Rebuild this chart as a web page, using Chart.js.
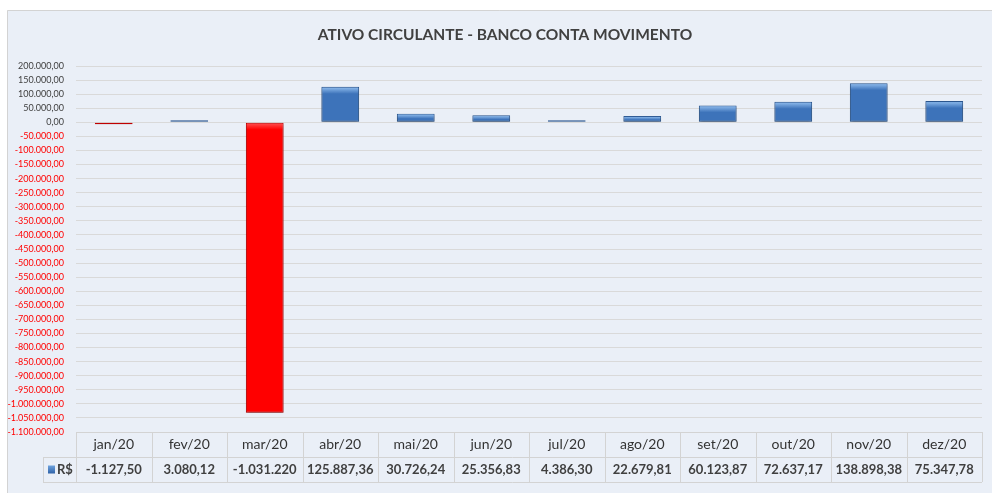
<!DOCTYPE html>
<html>
<head>
<meta charset="utf-8">
<script src="https://cdn.jsdelivr.net/npm/chart.js@4.4.1/dist/chart.umd.min.js"></script>
<style>
html,body{margin:0;padding:0;background:#fff;}
canvas{display:block;}
</style>
</head>
<body>
<canvas id="c" width="992" height="493"></canvas>
<script>
const categories = ['jan/20','fev/20','mar/20','abr/20','mai/20','jun/20','jul/20','ago/20','set/20','out/20','nov/20','dez/20'];
const seriesName = 'R$';
const values = [-1127.50, 3080.12, -1031220, 125887.36, 30726.24, 25356.83, 4386.30, 22679.81, 60123.87, 72637.17, 138898.38, 75347.78];
const yMin = -1100000, yMax = 200000, yStep = 50000;
const titleText = 'ATIVO CIRCULANTE - BANCO CONTA MOVIMENTO';

function fmt(v, dec) {
  const neg = v < 0;
  let s = Math.abs(v).toFixed(dec);
  let parts = s.split('.');
  let i = parts[0].replace(/\B(?=(\d{3})+(?!\d))/g, '.');
  return (neg ? '-' : '') + i + (parts[1] ? ',' + parts[1] : '');
}
function fmtTable(v) { return Math.abs(v) >= 1e6 ? fmt(v, 0) : fmt(v, 2); }

const FONT = 'Lato';
const TEXT = '#404040';
const GRID = '#D9D9D9';

const bgPlugin = {
  id: 'bgPanel',
  beforeDraw(chart) {
    const ctx = chart.ctx;
    ctx.save();
    ctx.fillStyle = '#ffffff';
    ctx.fillRect(0, 0, chart.width, chart.height);
    ctx.fillStyle = '#EAEFF7';
    ctx.fillRect(7, 10, chart.width - 7, chart.height - 10);
    ctx.strokeStyle = '#D3D3D3';
    ctx.lineWidth = 1;
    ctx.beginPath();
    ctx.moveTo(7.5, chart.height);
    ctx.lineTo(7.5, 10.5);
    ctx.lineTo(chart.width, 10.5);
    ctx.stroke();
    ctx.restore();
  }
};

const shadowPlugin = {
  id: 'barShadow',
  beforeDatasetsDraw(chart) {
    const ctx = chart.ctx;
    ctx.save();
    ctx.shadowColor = 'rgba(0,0,0,0.35)';
    ctx.shadowBlur = 3;
    ctx.shadowOffsetY = 2;
    ctx.shadowOffsetX = 0;
  },
  afterDatasetsDraw(chart) {
    const ctx = chart.ctx;
    ctx.restore();
    const meta = chart.getDatasetMeta(0);
    meta.data.forEach((bar, i) => {
      const v = values[i];
      const top = Math.min(bar.y, bar.base);
      const bot = Math.max(bar.y, bar.base);
      const h = bot - top;
      if (h < 3) return;
      const left = bar.x - bar.width / 2 + 1;
      const w = bar.width - 2;
      const bh = Math.min(6, h / 2);
      const g = ctx.createLinearGradient(0, top + 1, 0, top + 1 + bh);
      if (v >= 0) {
        g.addColorStop(0, 'rgba(140,185,235,0.95)');
        g.addColorStop(1, 'rgba(140,185,235,0)');
      } else {
        g.addColorStop(0, 'rgba(255,120,120,0.6)');
        g.addColorStop(1, 'rgba(255,120,120,0)');
      }
      ctx.save();
      ctx.fillStyle = g;
      ctx.fillRect(left, top + 1, w, bh);
      ctx.restore();
    });
  }
};

const tablePlugin = {
  id: 'dataTable',
  afterDraw(chart) {
    const ctx = chart.ctx;
    const xs = chart.scales.x;
    const area = chart.chartArea;
    const colW = (xs.right - xs.left) / categories.length;
    const top = area.bottom;
    const rowH = 25;
    const mid = top + rowH;
    const bottom = top + 2 * rowH;
    const legLeft = 43;
    ctx.save();
    ctx.strokeStyle = '#D3D3D3';
    ctx.lineWidth = 1;
    ctx.beginPath();
    ctx.moveTo(xs.left, Math.round(top) + 0.5);
    ctx.lineTo(xs.right, Math.round(top) + 0.5);
    ctx.moveTo(legLeft, Math.round(mid) + 0.5);
    ctx.lineTo(xs.right, Math.round(mid) + 0.5);
    ctx.moveTo(legLeft, Math.round(bottom) + 0.5);
    ctx.lineTo(xs.right, Math.round(bottom) + 0.5);
    for (let i = 0; i <= categories.length; i++) {
      const x = Math.round(xs.left + i * colW) + 0.5;
      ctx.moveTo(x, top);
      ctx.lineTo(x, bottom);
    }
    ctx.moveTo(legLeft + 0.5, mid);
    ctx.lineTo(legLeft + 0.5, bottom);
    ctx.stroke();

    const ky = mid + rowH / 2;
    const kg = ctx.createLinearGradient(0, ky - 4, 0, ky + 4);
    kg.addColorStop(0, '#6FA3DE');
    kg.addColorStop(1, '#2F62A8');
    ctx.fillStyle = kg;
    ctx.fillRect(48, ky - 4, 7, 8);
    ctx.fillStyle = TEXT;
    ctx.font = 'bold 13px ' + FONT;
    ctx.textAlign = 'left';
    ctx.textBaseline = 'middle';
    ctx.fillText(chart.data.datasets[0].label, 57, ky + 0.5);

    ctx.textAlign = 'center';
    chart.data.datasets[0].data.forEach((v, i) => {
      const cx = xs.getPixelForValue(i);
      ctx.fillText(fmtTable(v), cx, ky + 0.5);
    });
    ctx.restore();
  }
};

new Chart(document.getElementById('c'), {
  type: 'bar',
  data: {
    labels: categories,
    datasets: [{
      label: seriesName,
      data: values,
      backgroundColor: ctx => (values[ctx.dataIndex] < 0 ? '#FF0000' : '#3D73BA'),
      borderColor: ctx => (values[ctx.dataIndex] < 0 ? '#C00000' : '#2C5891'),
      borderWidth: 1,
      borderSkipped: false,
      minBarLength: 2,
      categoryPercentage: 1,
      barPercentage: 0.5
    }]
  },
  options: {
    responsive: false,
    animation: false,
    devicePixelRatio: 1,
    layout: { padding: { left: 0, right: -18, top: 0, bottom: 11 } },
    plugins: {
      legend: { display: false },
      tooltip: { enabled: false },
      title: {
        display: true,
        text: titleText,
        color: '#404040',
        font: { family: FONT, size: 15.5, weight: 'bold', lineHeight: 1.2 },
        padding: { top: 25.7, bottom: 21.7 }
      }
    },
    scales: {
      x: {
        grid: { display: false, drawTicks: false },
        border: { display: false },
        ticks: {
          color: '#333333',
          font: { family: FONT, size: 14 },
          padding: 4,
          maxRotation: 0,
          autoSkip: false
        },
        afterFit(scale) { scale.height = 50; }
      },
      y: {
        min: yMin,
        max: yMax,
        grid: { color: GRID, drawTicks: false },
        border: { display: false },
        ticks: {
          stepSize: yStep,
          autoSkip: false,
          padding: 12,
          color: ctx => (ctx.tick && ctx.tick.value < 0 ? '#FF0000' : TEXT),
          font: { family: FONT, size: 9 },
          callback: v => fmt(v, 2)
        },
        afterFit(scale) { scale.width = 76; }
      },
      ySpacer: {
        position: 'right',
        display: true,
        grid: { display: false, drawTicks: false },
        border: { display: false },
        ticks: { display: false },
        afterFit(scale) { scale.width = 28; }
      }
    }
  },
  plugins: [bgPlugin, shadowPlugin, tablePlugin]
});
</script>
</body>
</html>
